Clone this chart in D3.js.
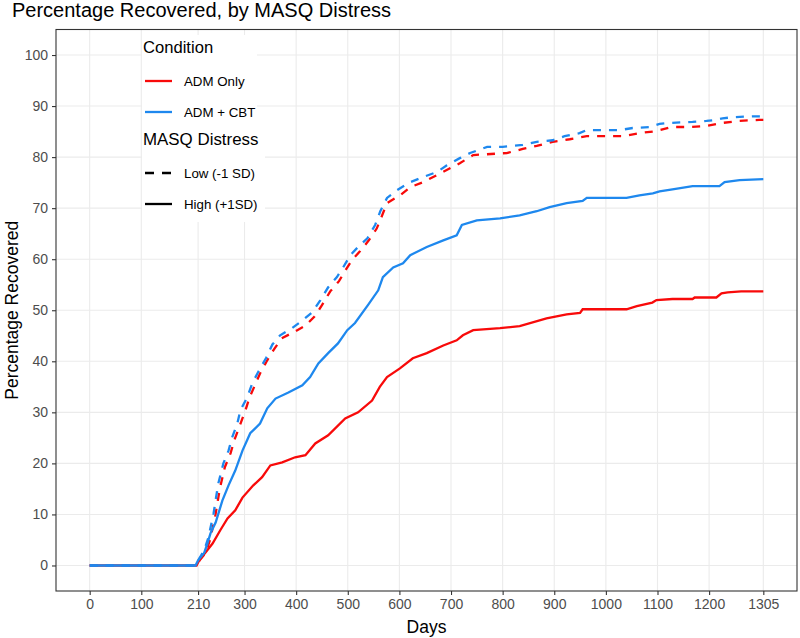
<!DOCTYPE html>
<html>
<head>
<meta charset="utf-8">
<script src="https://cdn.jsdelivr.net/npm/d3@7"></script>
<style>
  html, body { margin: 0; padding: 0; background: #fff; }
  svg { display: block; font-family: "Liberation Sans", Arial, sans-serif; }
</style>
</head>
<body>
<svg id="chart" width="800" height="638"></svg>
<script>
// ---------- DATA ----------
const xTicks = [0, 100, 210, 300, 400, 500, 600, 700, 800, 900, 1000, 1100, 1200, 1305];
const yTicks = [0, 10, 20, 30, 40, 50, 60, 70, 80, 90, 100];

// ADM + CBT, Low (-1 SD) distress
const cbtLowDays = [0,205,210,222,230,240,249,259,269,276,286,292,305,315,327,342,354,369,392,412,431,447,462,479,491,505,520,538,553,563,576,595,621,646,673,692,717,737,770,800,839,866,897,920,949,963,1027,1052,1085,1104,1123,1168,1195,1214,1226,1245,1284,1305];
const cbtLowPct  = [0,0,1,3,5.5,10.2,16,20,22.5,25.1,27.8,30.4,32.9,35.7,38,40.7,43.3,45.1,46.5,48,49.6,52,54.5,56.5,58.4,60.8,62.4,64.1,66.7,69.4,72,73.5,75.1,76.1,77.1,78.4,79.8,80.8,82,82,82.4,83,83.3,84.1,84.7,85.3,85.3,85.7,85.9,86.5,86.7,86.9,87.1,87.3,87.6,87.8,88,88];

// ADM Only, Low (-1 SD) distress
const admLowDays = [0,207,213,225,233,243,252,262,273,280,290,302,310,320,330,344,358,372,395,418,436,450,466,483,494,508,524,540,556,565,576,601,621,646,673,698,717,743,808,839,866,897,930,963,1033,1065,1098,1127,1162,1195,1226,1259,1297,1305];
const admLowPct  = [0,0,1,2.5,5,9.5,15,19.3,22,24.5,27.2,30.5,33,35.3,37.6,40.2,42.5,44.5,45.7,47,48.8,51,53.7,55.7,57.6,59.8,61.6,63.6,66,68.2,71,72.5,74.1,75.1,76.5,77.8,78.8,80.4,80.8,81.6,82.2,83,83.5,84.1,84.1,84.7,85.1,85.9,85.9,86.1,86.7,87.1,87.3,87.3];

// ADM + CBT, High (+1 SD) distress
const cbtHighDays = [0,205,210,222,228,234,244,257,269,282,296,311,330,344,360,385,412,427,443,462,481,499,514,539,559,568,588,607,621,653,685,711,721,750,795,833,866,891,924,955,963,1040,1065,1091,1104,1129,1168,1220,1230,1259,1305];
const cbtHighPct  = [0,0,1,2.5,4.3,6.3,8.4,12.7,15.7,18.6,22.5,25.9,27.8,30.8,32.7,33.9,35.3,36.9,39.6,41.6,43.5,46.1,47.5,51,53.9,56.5,58.4,59.2,60.8,62.4,63.7,64.7,66.7,67.6,68,68.6,69.4,70.2,71,71.4,72,72,72.5,72.9,73.3,73.7,74.3,74.3,75.1,75.5,75.7];

// ADM Only, High (+1 SD) distress
const admHighDays = [0,207,212,224,238,253,267,282,296,317,334,350,373,398,418,437,462,495,520,547,562,576,601,626,653,685,711,723,743,795,833,885,924,950,955,1040,1060,1090,1098,1129,1168,1172,1214,1224,1236,1262,1305];
const admHighPct  = [0,0,1,2.5,4.3,6.9,9.2,10.8,13.3,15.7,17.3,19.6,20.2,21.2,21.6,23.9,25.5,28.8,30,32.3,35,36.9,38.6,40.6,41.6,43.1,44.1,45.1,46.1,46.5,46.9,48.4,49.2,49.5,50.2,50.2,50.8,51.5,52,52.2,52.2,52.5,52.5,53.3,53.5,53.7,53.7];

const conditionLabels = ["ADM Only", "ADM + CBT"];
const distressLabels = ["Low (-1 SD)", "High (+1SD)"];

// ---------- STYLE ----------
const RED = "#F80A0A";
const BLUE = "#1E88EE";
const panel = {left: 56, right: 797, top: 29.5, bottom: 591};

const svg = d3.select("#chart");
const x = d3.scaleLinear().domain([-65.25, 1370.25]).range([panel.left, panel.right]);
const y = d3.scaleLinear().domain([-5, 105]).range([panel.bottom, panel.top]);

svg.append("rect").attr("x", panel.left).attr("y", panel.top)
  .attr("width", panel.right - panel.left).attr("height", panel.bottom - panel.top)
  .attr("fill", "#fff");

// grid
const grid = svg.append("g");
grid.selectAll("line.gx").data(xTicks).join("line")
  .attr("x1", d => x(d)).attr("x2", d => x(d))
  .attr("y1", panel.top).attr("y2", panel.bottom)
  .attr("stroke", "#EBEBEB").attr("stroke-width", 1.1);
grid.selectAll("line.gy").data(yTicks).join("line")
  .attr("y1", d => y(d)).attr("y2", d => y(d))
  .attr("x1", panel.left).attr("x2", panel.right)
  .attr("stroke", "#EBEBEB").attr("stroke-width", 1.1);

// series
const series = [
  {days: admHighDays, pct: admHighPct, color: RED, dash: null},
  {days: admLowDays, pct: admLowPct, color: RED, dash: "8,8"},
  {days: cbtLowDays, pct: cbtLowPct, color: BLUE, dash: "8,8"},
  {days: cbtHighDays, pct: cbtHighPct, color: BLUE, dash: null}
];
const line = d3.line().x(d => x(d[0])).y(d => y(d[1]));
const lines = svg.append("g").attr("fill", "none");
series.forEach(s => {
  const pts = s.days.map((d, i) => [d, s.pct[i]]);
  lines.append("path").attr("d", line(pts))
    .attr("stroke", s.color).attr("stroke-width", 2.3)
    .attr("stroke-dasharray", s.dash);
});

// legend
const lg = svg.append("g");
lg.append("rect").attr("x", 142).attr("y", 35).attr("width", 115).attr("height", 92).attr("fill", "#fff");
lg.append("rect").attr("x", 142).attr("y", 127).attr("width", 123).attr("height", 95).attr("fill", "#fff");
lg.append("text").attr("x", 143).attr("y", 53).attr("font-size", 16.6).attr("fill", "#000").text("Condition");
const condColors = [RED, BLUE];
const condY = [81, 112];
conditionLabels.forEach((lab, i) => {
  lg.append("line").attr("x1", 145).attr("x2", 172).attr("y1", condY[i]).attr("y2", condY[i])
    .attr("stroke", condColors[i]).attr("stroke-width", 2.3);
  lg.append("text").attr("x", 184).attr("y", condY[i] + 5).attr("font-size", 13.3).attr("fill", "#000").text(lab);
});
lg.append("text").attr("x", 143).attr("y", 145).attr("font-size", 16.9).attr("fill", "#000").text("MASQ Distress");
const distY = [173, 204];
const distDash = ["9,8", null];
distressLabels.forEach((lab, i) => {
  lg.append("line").attr("x1", 145).attr("x2", 172).attr("y1", distY[i]).attr("y2", distY[i])
    .attr("stroke", "#000").attr("stroke-width", 2.3).attr("stroke-dasharray", distDash[i]);
  lg.append("text").attr("x", 184).attr("y", distY[i] + 5).attr("font-size", 13.3).attr("fill", "#000").text(lab);
});

// panel border
svg.append("rect").attr("x", panel.left).attr("y", panel.top)
  .attr("width", panel.right - panel.left).attr("height", panel.bottom - panel.top)
  .attr("fill", "none").attr("stroke", "#333333").attr("stroke-width", 1.1);

// axes
const xAxis = d3.axisBottom(x).tickValues(xTicks).tickSize(4).tickPadding(4).tickFormat(d3.format("d"));
const yAxis = d3.axisLeft(y).tickValues(yTicks).tickSize(4).tickPadding(4).tickFormat(d3.format("d"));
const gx = svg.append("g").attr("transform", `translate(0,${panel.bottom})`).call(xAxis);
const gy = svg.append("g").attr("transform", `translate(${panel.left},0)`).call(yAxis);
[gx, gy].forEach(g => {
  g.select(".domain").remove();
  g.selectAll(".tick line").attr("stroke", "#333333").attr("stroke-width", 1.1);
  g.selectAll(".tick text").attr("fill", "#4D4D4D").attr("font-size", 14)
    .attr("font-family", "'Liberation Sans', Arial, sans-serif");
});

// titles
svg.append("text").attr("x", 12).attr("y", 17).attr("font-size", 20).attr("fill", "#000")
  .text("Percentage Recovered, by MASQ Distress");
svg.append("text").attr("x", (panel.left + panel.right) / 2).attr("y", 633)
  .attr("text-anchor", "middle").attr("font-size", 17.5).attr("fill", "#000").text("Days");
svg.append("text").attr("transform", `translate(18,${(panel.top + panel.bottom) / 2}) rotate(-90)`)
  .attr("text-anchor", "middle").attr("font-size", 17.5).attr("fill", "#000").text("Percentage Recovered");
</script>
</body>
</html>
